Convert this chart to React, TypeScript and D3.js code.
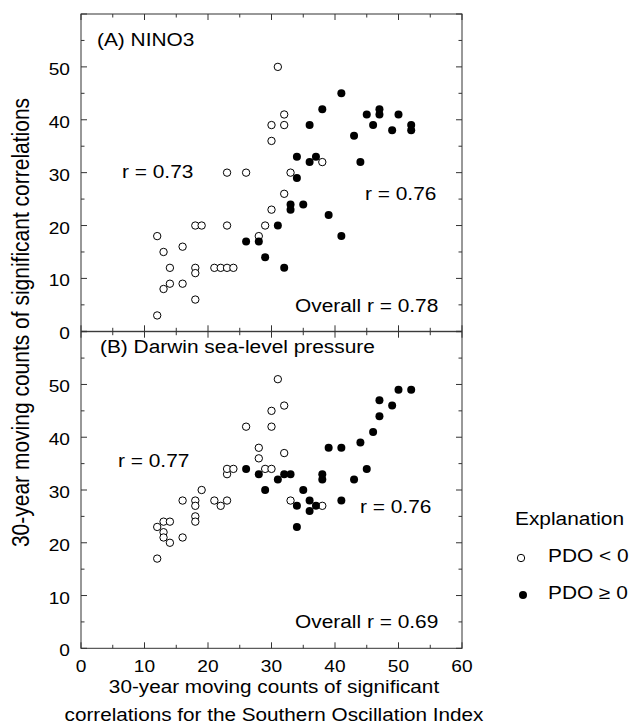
import React from "react";
import * as d3 from "d3";

// ---- data (x = SOI counts, y = counts for the index) ----
const ninoNeg: [number, number][] = [
  [12, 3], [12, 18], [13, 15], [13, 8], [14, 12], [14, 9], [16, 16], [16, 9],
  [18, 12], [18, 11], [18, 6], [18, 20], [19, 20], [21, 12], [22, 12], [23, 12],
  [24, 12], [23, 20], [23, 30], [26, 30], [28, 18], [29, 20], [30, 23], [30, 36],
  [30, 39], [31, 50], [32, 41], [32, 39], [32, 26], [33, 30], [38, 32],
];
const ninoPos: [number, number][] = [
  [26, 17], [28, 17], [29, 14], [31, 20], [32, 12], [33, 24], [33, 23], [34, 29],
  [34, 33], [35, 24], [36, 39], [36, 32], [37, 33], [38, 42], [39, 22], [41, 45],
  [41, 18], [43, 37], [44, 32], [45, 41], [46, 39], [47, 42], [47, 41], [49, 38],
  [50, 41], [52, 39], [52, 38],
];
const darwinNeg: [number, number][] = [
  [12, 17], [12, 23], [13, 22], [13, 21], [13, 24], [14, 24], [14, 20], [16, 21],
  [16, 28], [18, 28], [18, 27], [18, 25], [18, 24], [19, 30], [21, 28], [22, 27],
  [23, 28], [23, 33], [23, 34], [24, 34], [26, 42], [28, 38], [28, 36], [29, 34],
  [30, 34], [30, 42], [30, 45], [31, 51], [32, 46], [32, 37], [33, 28], [38, 27],
];
const darwinPos: [number, number][] = [
  [26, 34], [28, 33], [29, 30], [31, 32], [32, 33], [33, 33], [34, 27], [34, 23],
  [35, 30], [36, 28], [36, 26], [37, 27], [38, 33], [38, 32], [39, 38], [41, 38],
  [41, 28], [43, 32], [44, 39], [45, 34], [46, 41], [47, 44], [47, 47], [49, 46],
  [50, 49], [52, 49],
];
const xTickLabels = [0, 10, 20, 30, 40, 50, 60];
const yTickLabels = [10, 20, 30, 40, 50];
const minorTicks = d3.range(0, 61, 5);

const FONT = "'Liberation Sans', Arial, Helvetica, sans-serif";
const SX = 1.16;
const R_OPEN = 3.7;
const R_FILL = 4;

const x = d3.scaleLinear().domain([0, 60]).range([81, 462]);
const yA = d3.scaleLinear().domain([0, 60]).range([331.3, 14]);
const yB = d3.scaleLinear().domain([0, 60]).range([648.3, 331.7]);

function T({ x, y, size, anchor = "start", children, sx = SX }: any) {
  return (
    <text
      transform={`translate(${x},${y}) scale(${sx},1)`}
      fontSize={size}
      fontFamily={FONT}
      textAnchor={anchor}
      fill="#000"
    >
      {children}
    </text>
  );
}

function Panel({ y, neg, pos, title, rLeft, rRight, overall }: any) {
  const [y0, y1] = y.range();
  const x0 = x.range()[0];
  const x1 = x.range()[1];
  const stroke = "#333";
  return (
    <g>
      <rect x={x0} y={y1} width={x1 - x0} height={y0 - y1} fill="none" stroke={stroke} strokeWidth={1} />
      {minorTicks.map((v) => {
        const len = v % 10 === 0 ? 6 : 3.5;
        return (
          <g key={v} stroke={stroke} strokeWidth={1}>
            <line x1={x0} x2={x0 + len} y1={y(v)} y2={y(v)} />
            <line x1={x1} x2={x1 - len} y1={y(v)} y2={y(v)} />
            <line x1={x(v)} x2={x(v)} y1={y0} y2={y0 - len} />
            <line x1={x(v)} x2={x(v)} y1={y1} y2={y1 + len} />
          </g>
        );
      })}
      {yTickLabels.map((v) => (
        <T key={v} x={70} y={y(v) + 8} size={16.5} anchor="end">
          {v}
        </T>
      ))}
      {neg.map((d: [number, number], i: number) => (
        <circle key={"n" + i} cx={x(d[0])} cy={y(d[1])} r={R_OPEN} fill="#fff" stroke="#000" strokeWidth={1} />
      ))}
      {pos.map((d: [number, number], i: number) => (
        <circle key={"p" + i} cx={x(d[0])} cy={y(d[1])} r={R_FILL} fill="#000" />
      ))}
      {title}
      {rLeft}
      {rRight}
      {overall}
    </g>
  );
}

export default function App() {
  return (
    <svg
      width={631}
      height={726}
      style={{ position: "absolute", left: 0, top: 0, background: "#fff" }}
    >
      <rect width={631} height={726} fill="#fff" />
      <Panel
        y={yA}
        neg={ninoNeg}
        pos={ninoPos}
        title={<T x={97} y={46} size={18}>(A) NINO3</T>}
        rLeft={<T x={122} y={178.3} size={18}>r = 0.73</T>}
        rRight={<T x={365} y={200} size={18}>r = 0.76</T>}
        overall={<T x={295} y={311.5} size={18}>Overall r = 0.78</T>}
      />
      <Panel
        y={yB}
        neg={darwinNeg}
        pos={darwinPos}
        title={<T x={100} y={353} size={18}>(B) Darwin sea-level pressure</T>}
        rLeft={<T x={118} y={466.7} size={18}>r = 0.77</T>}
        rRight={<T x={360} y={513} size={18}>r = 0.76</T>}
        overall={<T x={295} y={628} size={18}>Overall r = 0.69</T>}
      />
      {/* shared zero labels */}
      <T x={70} y={yA(0) + 8} size={16.5} anchor="end">0</T>
      <T x={70} y={yB(0) + 8} size={16.5} anchor="end">0</T>
      {xTickLabels.map((v) => (
        <T key={v} x={x(v)} y={671.7} size={16.5} anchor="middle">
          {v}
        </T>
      ))}
      <T x={274} y={693} size={18.5} anchor="middle" sx={1.12}>
        30-year moving counts of significant
      </T>
      <T x={274} y={721} size={18.5} anchor="middle" sx={1.12}>
        correlations for the Southern Oscillation Index
      </T>
      <text
        transform="translate(28.5,322.5) scale(1.1,1) rotate(-90)"
        fontSize={21}
        fontFamily={FONT}
        textAnchor="middle"
        fill="#000"
      >
        30-year moving counts of significant correlations
      </text>
      {/* legend */}
      <T x={515} y={525} size={18}>Explanation</T>
      <circle cx={521} cy={558} r={R_OPEN} fill="#fff" stroke="#000" strokeWidth={1} />
      <T x={548} y={562} size={18}>PDO &lt; 0</T>
      <circle cx={523} cy={595} r={R_FILL} fill="#000" />
      <T x={548} y={599} size={18}>PDO ≥ 0</T>
    </svg>
  );
}
